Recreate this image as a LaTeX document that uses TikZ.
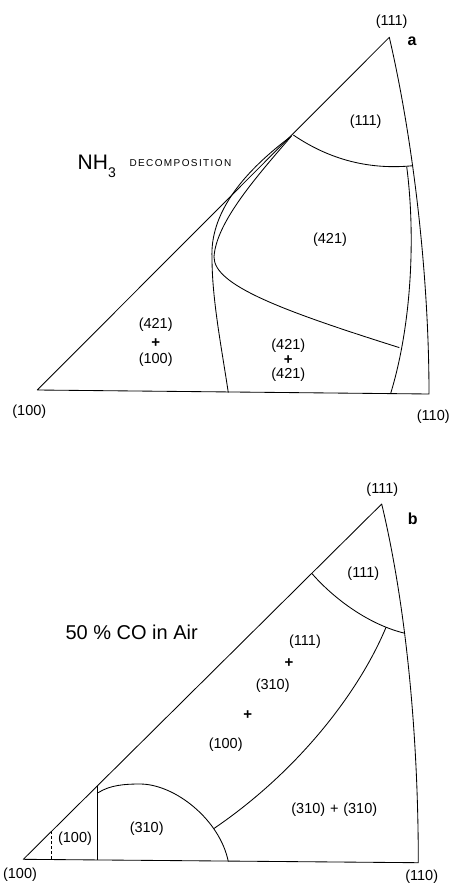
\documentclass[tikz,border=0pt]{standalone}
\usepackage{fontspec}
\setmainfont{Liberation Sans}
\begin{document}
\begin{tikzpicture}[x=1pt,y=-1pt,
  edge/.style={line width=0.85pt, line join=round},
  lbl/.style={inner sep=0pt, font=\fontsize{14.5}{14.5}\selectfont},
  plus/.style={inner sep=0pt, font=\fontsize{15}{15}\selectfont\bfseries},
  tag/.style={inner sep=0pt, font=\fontsize{16}{16}\selectfont\bfseries}]
\useasboundingbox (0,0) rectangle (450,885);
% ---------------- panel a ----------------
\coordinate (a100) at (37.3,390);
\coordinate (a111) at (389.3,37.3);
\coordinate (a110) at (429,394);
\coordinate (aH1) at (293.3,135);
\coordinate (aR1) at (413,165.7);
\coordinate (aI1) at (406.7,166.7);
\coordinate (aI2) at (390.7,393.3);
\coordinate (aCt) at (291.5,136);
\coordinate (aCl) at (214,257);
\coordinate (aCr) at (399.3,347.6);
\coordinate (aDt) at (289.5,137.5);
\coordinate (aDl) at (212,258);
\coordinate (aDb) at (228.3,392.7);
\draw[edge] (a100) -- (a111) .. controls (412,135) and (429,270) .. (a110) -- cycle;
\draw[edge] (aH1) .. controls (330,160) and (370,170) .. (aR1);
\draw[edge] (aI1) .. controls (415,230) and (413,320) .. (aI2);
\draw[edge] (aCt) .. controls (258,175) and (216,222) .. (aCl)
             .. controls (214,285) and (280,310) .. (aCr);
\draw[edge] (aDt) .. controls (240,175) and (210,215) .. (aDl)
             .. controls (212,300) and (222,350) .. (aDb);
\node[lbl] (la111) at (391.7,21.7) {(111)};
\node[tag] (la) at (412,41.7) {a};
\node[lbl] (la111r) at (365.7,121.7) {(111)};
\node[lbl] (la421) at (330,239.3) {(421)};
\node[lbl] (lb1) at (155.7,325) {(421)};
\node[plus] (lb2) at (155.7,342.8) {+};
\node[lbl] (lb3) at (155.7,360) {(100)};
\node[lbl] (lc1) at (288.3,346) {(421)};
\node[plus] (lc2) at (288.3,360.5) {+};
\node[lbl] (lc3) at (288.3,375) {(421)};
\node[lbl] (la100) at (29.3,411.7) {(100)};
\node[lbl] (la110) at (433.3,416.7) {(110)};
\node[inner sep=0pt, anchor=base west, font=\fontsize{21}{21}\selectfont] (lnh) at (77.5,170)
  {NH\raisebox{-0.35em}{\fontsize{14}{14}\selectfont 3}};
\node[inner sep=0pt, anchor=base west, font=\fontsize{10}{10}\selectfont\addfontfeatures{LetterSpace=14}] (ldec) at (129.3,166.7) {DECOMPOSITION};
% ---------------- panel b ----------------
\coordinate (b100) at (23.3,859.3);
\coordinate (b111) at (381.7,504);
\coordinate (b110) at (418.3,862.7);
\coordinate (bH1) at (311.7,573.3);
\coordinate (bR1) at (405,633.3);
\coordinate (bB1) at (386,627.3);
\coordinate (bV1) at (97.3,785.9);
\coordinate (bV2) at (97.3,859.9);
\coordinate (bD0) at (98.2,792.7);
\coordinate (bDp) at (140,784);
\coordinate (bD2) at (228.3,861.6);
\coordinate (bS1) at (51.7,831.4);
\coordinate (bS2) at (51.7,859.5);
\draw[edge] (b100) -- (b111) .. controls (407,610) and (418.3,740) .. (b110) -- cycle;
\draw[edge] (bH1) .. controls (335,600) and (370,625) .. (bR1);
\draw[edge] (bV1) -- (bV2);
\draw[edge] (bD0) .. controls (110,785) and (125,784) .. (bDp)
   .. controls (175,784) and (220,820) .. (bD2) coordinate[pos=0.72] (bDm);
\draw[edge] (bB1) .. controls (360,690) and (300,770) .. (bDm);
\draw[edge, dashed, dash pattern=on 3pt off 2pt] (bS1) -- (bS2);
\node[lbl] (lb111) at (382.3,490) {(111)};
\node[tag] (lb) at (412.7,519) {b};
\node[lbl] (lb111r) at (363.3,573.3) {(111)};
\node[inner sep=0pt, font=\fontsize{20}{20}\selectfont] (lco) at (131.7,632.7) {50 \% CO in Air};
\node[lbl] (lm1) at (305,641.7) {(111)};
\node[plus] (lm2) at (289,662.7) {+};
\node[lbl] (lm3) at (272.7,686) {(310)};
\node[plus] (lm4) at (247.7,715) {+};
\node[lbl] (lm5) at (225.7,745) {(100)};
\node[lbl] (lpp) at (334.3,809.3) {(310)\,\,+\,\,(310)};
\node[lbl] (ld310) at (146.7,828.3) {(310)};
\node[lbl] (ld100) at (75,838.3) {(100)};
\node[lbl] (lb100) at (20,875) {(100)};
\node[lbl] (lb110) at (421.7,876.7) {(110)};
\end{tikzpicture}
\end{document}
